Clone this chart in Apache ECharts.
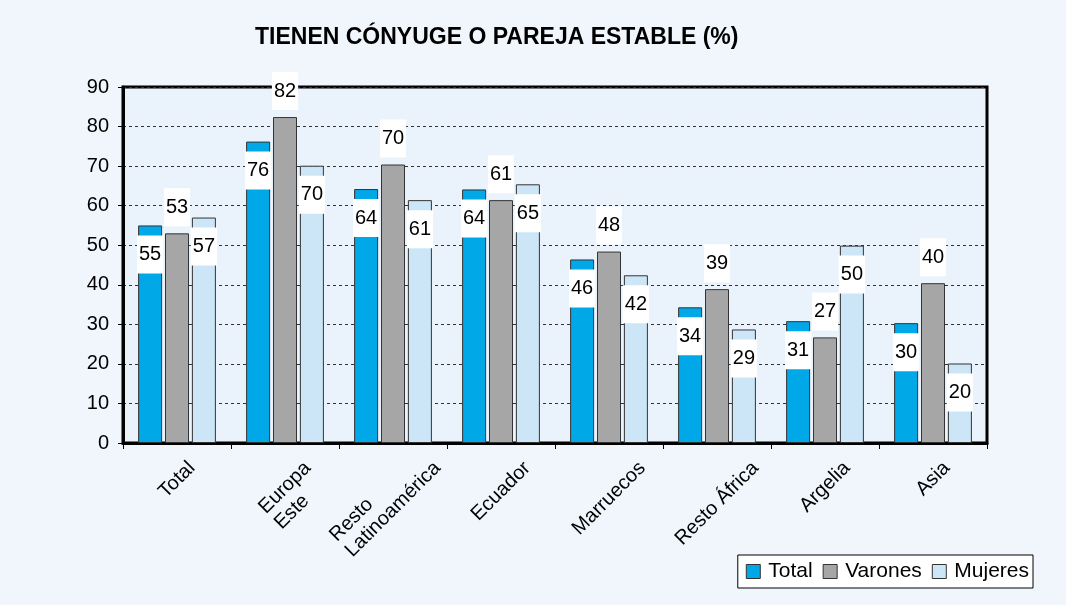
<!DOCTYPE html>
<html>
<head>
<meta charset="utf-8">
<script src="https://cdn.jsdelivr.net/npm/echarts@6/dist/echarts.min.js"></script>
<style>
  html, body { margin: 0; padding: 0; background: #f1f6fc; }
  #chart { width: 1066px; height: 605px; }
</style>
</head>
<body>
<div id="chart"></div>
<script>
// datos
const categories = ["Total", "Europa\nEste", "Resto\nLatinoamérica", "Ecuador", "Marruecos", "Resto África", "Argelia", "Asia"];
const totalData = [55.0, 76.2, 64.2, 64.1, 46.4, 34.3, 30.8, 30.3];
const varonesData = [53.0, 82.4, 70.4, 61.4, 48.4, 38.9, 26.7, 40.4];
const mujeresData = [57.0, 70.1, 61.4, 65.4, 42.4, 28.7, 49.9, 20.1];
const seriesNames = ["Total", "Varones", "Mujeres"];

const FONT = "'Liberation Sans', Arial, Helvetica, sans-serif";

const chart = echarts.init(document.getElementById("chart"));

function valueLabel(position, distance) {
  return {
    show: true,
    position: position,
    distance: distance,
    backgroundColor: "#fff",
    padding: [8, 2, 8, 2],
    lineHeight: 22,
    fontSize: 20,
    fontFamily: FONT,
    color: "#000",
    formatter: function (p) {
      return Math.round(p.value);
    },
  };
}

function barSeries(name, data, color, label) {
  return {
    name: name,
    type: "bar",
    data: data,
    barWidth: 24,
    barGap: "12%",
    itemStyle: {
      color: color,
      borderColor: "#333",
      borderWidth: 1,
    },
    label: label,
    animation: false,
  };
}

const option = {
  backgroundColor: "#f1f6fc",
  textStyle: { fontFamily: FONT },
  title: {
    text: "TIENEN CÓNYUGE O PAREJA ESTABLE (%)",
    left: 250,
    top: 21,
    textStyle: {
      fontFamily: FONT,
      fontSize: 23,
      fontWeight: "bold",
      color: "#000",
    },
  },
  legend: {
    data: seriesNames,
    right: 33,
    top: 555,
    orient: "horizontal",
    itemWidth: 14,
    itemHeight: 14,
    itemGap: 10,
    padding: [6, 4, 6, 8],
    backgroundColor: "#fff",
    borderColor: "#000",
    borderWidth: 1,
    borderRadius: 0,
    icon: "rect",
    itemStyle: { borderColor: "#333", borderWidth: 1 },
    textStyle: {
      fontFamily: FONT,
      fontSize: 21,
      color: "#000",
      padding: [0, 0, 0, 3],
    },
  },
  grid: {
    left: 123,
    right: 79,
    top: 87,
    bottom: 162,
    show: true,
    backgroundColor: "#eaf3fb",
    borderColor: "#000",
    borderWidth: 3,
  },
  xAxis: {
    type: "category",
    data: categories,
    axisLine: { lineStyle: { color: "#000", width: 3 } },
    axisTick: { show: true, length: 6, lineStyle: { color: "#000", width: 1 } },
    axisLabel: { show: false },
  },
  yAxis: {
    type: "value",
    min: 0,
    max: 90,
    interval: 10,
    axisLine: { show: true, lineStyle: { color: "#000", width: 3 } },
    axisTick: { show: true, length: 5, lineStyle: { color: "#000", width: 1 } },
    axisLabel: {
      margin: 14,
      fontSize: 20,
      fontFamily: FONT,
      color: "#000",
    },
    splitLine: {
      lineStyle: { color: "#333", width: 1, type: [3, 3] },
    },
  },
  series: [
    barSeries("Total", totalData, "#00a8e8", valueLabel("insideTop", 10)),
    barSeries("Varones", varonesData, "#a6a6a6", valueLabel("top", 7)),
    barSeries("Mujeres", mujeresData, "#cce6f7", valueLabel("insideTop", 10)),
  ],
};

chart.setOption(option);

// etiquetas del eje X giradas 45º, centradas en la categoría como en Excel
const LABEL_FONT = "20px 'Liberation Sans', Arial, sans-serif";
const LH = 22;
const ctx = document.createElement("canvas").getContext("2d");
ctx.font = LABEL_FONT;
const y0 = chart.convertToPixel({ yAxisIndex: 0 }, 0);

const xLabels = categories.map(function (cat, i) {
  const lines = cat.split("\n");
  let k = 0;
  let wk = 0;
  lines.forEach(function (l, j) {
    const w = ctx.measureText(l).width;
    if (w > wk) {
      wk = w;
      k = j;
    }
  });
  return {
    type: "text",
    silent: true,
    x: chart.convertToPixel({ xAxisIndex: 0 }, i),
    y: y0 + 22 + wk * 0.354,
    rotation: Math.PI / 4,
    style: {
      text: cat,
      x: -wk / 2,
      y: -(k * LH + LH / 2),
      font: LABEL_FONT,
      lineHeight: LH,
      align: "left",
      verticalAlign: "top",
      textAlign: "left",
      textVerticalAlign: "top",
      fill: "#000",
    },
  };
});

chart.setOption({ graphic: xLabels });
</script>
</body>
</html>
